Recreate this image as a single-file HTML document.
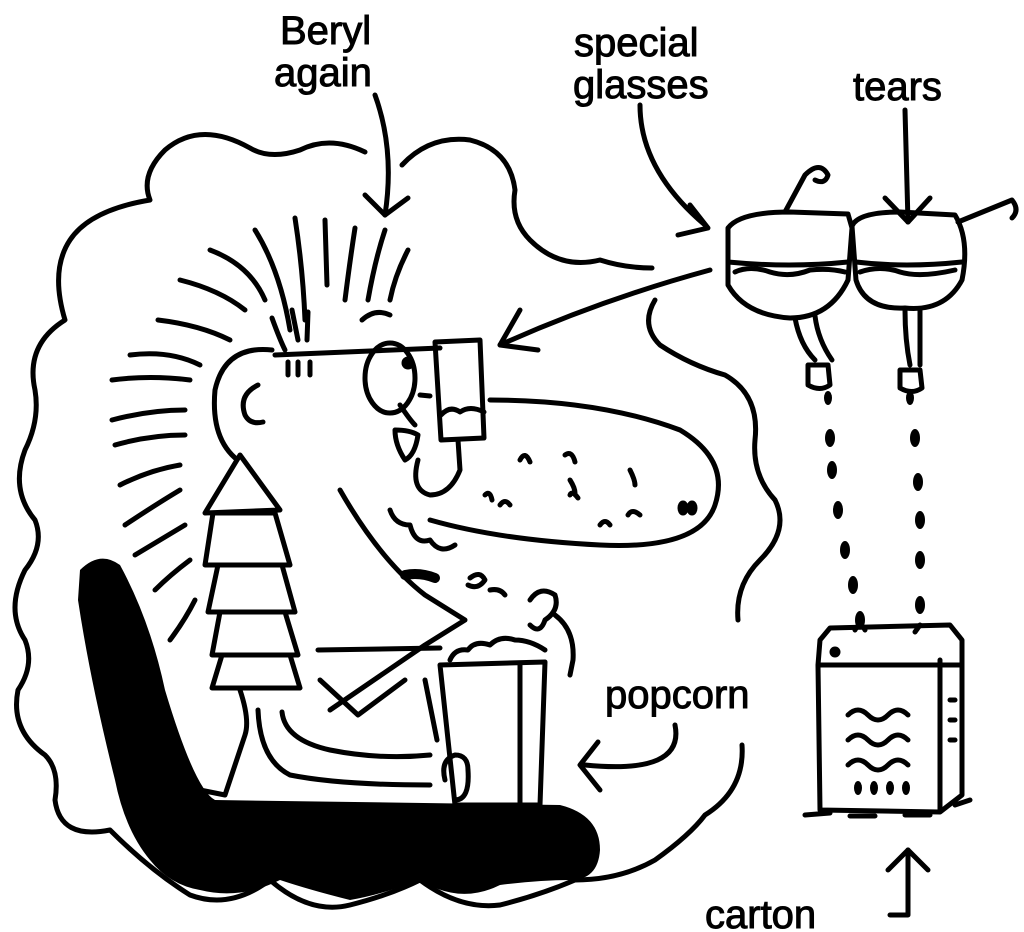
<!DOCTYPE html>
<html><head><style>
html,body{margin:0;padding:0;background:#fff;}
svg{display:block}
text{font-family:"Liberation Sans",sans-serif;font-size:40px;fill:#000;stroke:#000;stroke-width:1}
</style></head><body>
<svg width="1024" height="932" viewBox="0 0 1024 932" xmlns="http://www.w3.org/2000/svg">
<g fill="none" stroke="#000" stroke-width="5" stroke-linecap="round" stroke-linejoin="round">
<!-- cloud -->
<path d="M365 152 Q330 135 300 150 Q270 160 250 148 Q200 120 165 150 Q140 175 150 200 Q90 210 70 240 Q50 270 65 320 Q25 345 35 390 Q40 420 25 450 Q10 490 35 520 Q45 545 25 570 Q5 610 25 640 Q35 665 18 690 Q10 730 45 755 Q60 770 55 800 Q60 840 110 830 Q150 870 190 895 Q230 910 270 880 Q310 915 350 905 Q390 895 420 880 Q460 910 500 905 Q540 895 575 880 Q620 880 655 860 Q690 835 705 815 Q745 790 742 745"/>
<path d="M402 165 Q430 135 470 140 Q510 150 515 190 Q510 220 530 240 Q560 270 600 260 Q625 268 652 268"/>
<path d="M655 300 Q640 325 660 345 Q690 365 725 375 Q760 395 755 440 Q752 475 775 500 Q790 530 760 560 Q735 585 738 620"/>
<!-- arrows -->
<path d="M375 95 Q395 150 385 215"/><path d="M365 195 L385 215 L408 198"/>
<path d="M640 105 Q640 170 705 225"/><path d="M690 205 L708 228 L678 235"/>
<path d="M905 110 L908 222"/><path d="M885 198 L908 222 L930 198"/>
<path d="M710 270 Q600 300 500 345"/><path d="M520 310 L500 345 L538 350"/>
<path d="M675 725 Q685 775 585 765"/><path d="M598 742 L580 765 L600 790"/>
<path d="M890 915 L908 915 L908 850"/><path d="M888 870 L908 850 L928 870"/>
<!-- hair -->
<path d="M255 230 Q280 270 290 330"/><path d="M295 218 Q303 270 305 320"/><path d="M325 220 L327 285"/><path d="M355 228 Q350 260 345 300"/><path d="M385 230 Q375 260 368 300"/><path d="M408 250 Q395 275 390 300"/>
<path d="M210 250 Q250 265 265 300"/><path d="M180 280 Q220 290 245 310"/><path d="M158 320 Q200 325 230 340"/><path d="M130 355 Q170 350 200 365"/><path d="M112 380 Q150 375 190 380"/><path d="M112 420 Q150 410 185 410"/><path d="M115 445 Q150 435 185 435"/><path d="M120 485 Q150 470 180 465"/><path d="M125 525 Q155 505 180 490"/><path d="M135 555 Q160 540 185 525"/><path d="M155 590 Q170 575 190 560"/><path d="M170 640 Q185 620 195 600"/>
<path d="M272 318 Q280 340 285 350"/><path d="M292 310 L298 340"/><path d="M308 312 L307 340"/>
<path d="M362 320 Q375 308 390 315"/>
<!-- head -->
<path d="M272 350 Q225 345 215 390 Q210 445 245 465"/>
<path d="M258 385 Q238 395 245 415 Q250 425 263 422"/>
<path d="M288 362 L288 375 M298 362 L298 375 M310 362 L310 375"/>
<path d="M275 355 L440 348"/>
<ellipse cx="390" cy="378" rx="25" ry="35"/>
<circle cx="408" cy="363" r="4" fill="#000"/>
<path d="M435 342 L480 340 L484 438 L441 440 Z"/>
<path d="M441 415 Q450 405 460 412 Q470 405 484 412"/>
<path d="M420 395 L430 396"/>
<path d="M400 405 Q410 420 415 425 M395 430 Q410 430 418 435 Q415 455 405 460 Q395 445 395 430"/>
<path d="M418 460 Q410 490 430 495 Q450 495 460 470 L458 440"/>
<path d="M490 400 Q600 400 680 430 Q730 460 715 505 Q700 550 600 545 Q500 540 430 520"/>
<path d="M340 490 Q380 560 425 595 L465 620 L425 645 L330 710"/>
<path d="M390 510 Q395 525 410 525 M410 525 Q415 545 430 540 M430 540 Q440 555 455 545"/>
<path d="M405 575 Q420 572 435 578" stroke-width="10"/>
<path d="M520 460 Q525 450 530 462 M565 455 Q572 450 575 462 M485 495 Q490 490 492 500 M500 505 Q505 498 510 505 M570 495 Q572 490 578 498 M630 470 Q635 480 635 485 M600 525 Q605 518 610 525 M628 515 Q632 508 640 515 M570 480 Q575 488 575 493"/>
<ellipse cx="683" cy="508" rx="3" ry="5" fill="#000"/><ellipse cx="692" cy="508" rx="3" ry="5" fill="#000"/>
<!-- hand / popcorn -->
<path d="M470 578 Q480 570 485 580 Q478 590 468 585 M490 590 Q500 588 505 595"/>
<path d="M530 600 Q540 585 555 595 Q560 610 545 620 Q540 635 530 625 M555 615 Q575 630 573 660 L570 675"/>
<path d="M318 650 L440 648 M320 680 L358 715 L405 680 M425 680 L437 740"/>
<path d="M440 665 L545 662 L540 805 L455 805 Z M520 665 L520 805"/>
<path d="M450 660 Q455 648 468 650 Q475 640 490 645 Q500 635 515 640 Q530 640 545 650"/>
<path d="M445 780 Q440 760 455 755 Q468 755 468 770 Q470 800 455 800"/>
<path d="M240 690 Q250 720 245 735 L225 795 L200 790"/>
<path d="M258 710 Q260 760 290 775 Q340 785 430 785"/>
<path d="M282 712 Q285 740 330 750 Q380 760 430 755"/>
<!-- tree collar -->
<path d="M240 455 L280 510 L205 513 Z M213 513 L275 513 L290 565 L205 565 Z M218 565 L282 565 L295 612 L208 612 Z M220 612 L285 612 L298 655 L212 655 Z M222 655 L290 655 L300 688 L212 688 Z" fill="#fff"/>
<!-- glasses -->
<path d="M728 228 Q740 212 790 212 L848 214 L852 228 L848 280 Q830 318 790 318 Q745 315 728 285 Z"/>
<path d="M852 226 Q858 212 900 212 L955 215 Q970 240 962 280 Q945 312 905 308 Q865 310 856 280 Z"/>
<path d="M728 262 Q790 268 848 262 M856 262 Q905 268 962 262"/>
<path d="M735 272 Q750 265 770 272 Q790 278 810 270 Q830 268 845 272 M860 272 Q880 265 900 272 Q920 278 955 270"/>
<path d="M785 212 L805 175 Q820 160 828 175 Q825 185 815 180"/>
<path d="M958 222 L1012 200 Q1020 210 1012 218"/>
<path d="M795 318 Q800 345 815 360 M815 316 Q818 340 832 360"/>
<path d="M808 365 L828 365 L830 385 Q820 392 808 385 Z"/>
<path d="M905 310 Q905 340 910 365 M920 310 Q920 340 920 365"/>
<path d="M900 370 L920 370 L922 388 Q912 395 900 388 Z"/>
<!-- carton -->
<path d="M820 640 L830 628 L950 625 L962 640 L962 665 L818 665 Z M818 665 L820 810 L940 812 L940 660 M940 812 L962 795 L962 665"/>
<circle cx="835" cy="652" r="3" fill="#000"/>
<path d="M848 715 Q858 705 868 715 Q878 725 888 715 Q898 705 908 715 M848 740 Q858 730 868 740 Q878 750 888 740 Q898 730 908 740 M848 765 Q858 755 868 765 Q878 775 888 765 Q898 755 908 765"/>
<path d="M950 700 L955 700 M950 720 L955 720 M950 740 L955 740"/>
<path d="M805 815 L830 813 M850 816 L875 816 M905 815 L930 815 M955 805 L970 800"/>
<path d="M855 630 Q860 620 865 630 M915 632 L920 625"/>
</g>
<!-- drops -->
<g fill="#000">
<ellipse cx="828" cy="398" rx="4" ry="7"/><ellipse cx="910" cy="398" rx="4" ry="7"/>
<ellipse cx="830" cy="438" rx="5" ry="9"/><ellipse cx="832" cy="470" rx="5" ry="9"/><ellipse cx="838" cy="510" rx="5" ry="9"/><ellipse cx="845" cy="550" rx="5" ry="9"/><ellipse cx="853" cy="585" rx="5" ry="9"/><ellipse cx="860" cy="620" rx="5" ry="9"/>
<ellipse cx="915" cy="438" rx="5" ry="9"/><ellipse cx="918" cy="482" rx="5" ry="9"/><ellipse cx="920" cy="520" rx="5" ry="9"/><ellipse cx="920" cy="560" rx="5" ry="9"/><ellipse cx="920" cy="605" rx="5" ry="9"/>
<ellipse cx="858" cy="788" rx="4" ry="7"/><ellipse cx="874" cy="788" rx="4" ry="7"/><ellipse cx="890" cy="788" rx="4" ry="7"/><ellipse cx="906" cy="788" rx="4" ry="7"/>
<!-- chair -->
<path d="M80 570 Q100 550 120 565 Q150 620 165 690 Q195 790 215 800 L560 805 Q600 815 600 850 Q598 880 570 880 Q540 880 500 885 Q460 905 420 880 Q380 895 350 900 Q310 890 280 880 Q240 900 200 890 Q170 885 150 860 Q125 830 115 780 Q90 680 78 600 Z"/>
</g>
<!-- labels -->
<text x="280" y="44">Beryl</text>
<text x="274" y="86">again</text>
<text x="574" y="56">special</text>
<text x="573" y="98">glasses</text>
<text x="853" y="100">tears</text>
<text x="605" y="708">popcorn</text>
<text x="705" y="928">carton</text>
</svg>
</body></html>
